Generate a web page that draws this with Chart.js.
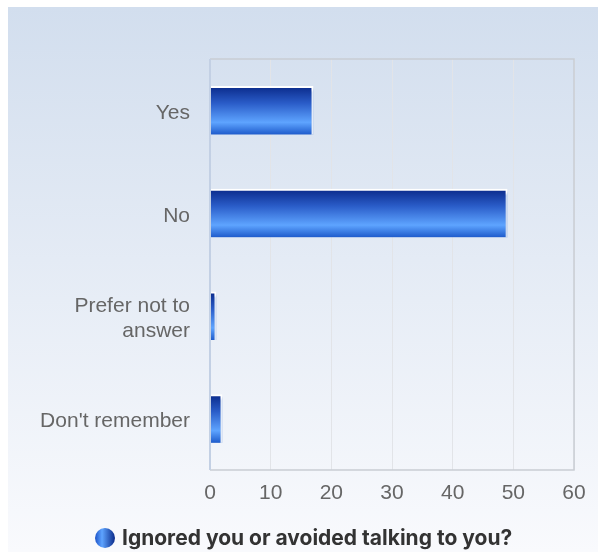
<!DOCTYPE html>
<html>
<head>
<meta charset="utf-8">
<script src="https://cdn.jsdelivr.net/npm/chart.js@4.4.1/dist/chart.umd.min.js"></script>
<style>
  html, body { margin: 0; padding: 0; background: #fff; }
  #wrap { width: 598px; height: 552px; position: relative; }
</style>
</head>
<body>
<div id="wrap"><canvas id="chart" width="598" height="552"></canvas></div>
<script>
const categories = ['Yes', 'No', ['Prefer not to', 'answer'], "Don't remember"];
const responses = [17, 49, 1, 2];
const xTicks = [0, 10, 20, 30, 40, 50, 60];
const seriesName = 'Ignored you or avoided talking to you?';

const BAR_H = 48;

// panel background with a soft blue-to-white fade
const panelBackground = {
    id: 'panelBackground',
    beforeDraw(chart) {
        const { ctx, width, height } = chart;
        const g = ctx.createLinearGradient(0, 7, 0, height);
        g.addColorStop(0, '#d2deee');
        g.addColorStop(1, '#f9fafd');
        ctx.save();
        ctx.fillStyle = g;
        ctx.fillRect(8, 7, width - 8, height - 7);
        ctx.restore();
    }
};

// plot frame + drop shadow under bars
const plotFrame = {
    id: 'plotFrame',
    beforeDatasetsDraw(chart) {
        const ctx = chart.ctx;
        ctx.save();
        ctx.shadowColor = 'rgba(70, 120, 200, 0.45)';
        ctx.shadowOffsetY = 3;
        ctx.shadowOffsetX = 1;
        ctx.shadowBlur = 2;
    },
    afterDatasetsDraw(chart) {
        chart.ctx.restore();
    },
    afterDraw(chart) {
        const { ctx, chartArea: a } = chart;
        ctx.save();
        ctx.strokeStyle = '#c9cdd3';
        ctx.lineWidth = 1.5;
        ctx.beginPath();
        ctx.moveTo(a.left, a.top);
        ctx.lineTo(a.right, a.top);
        ctx.lineTo(a.right, a.bottom);
        ctx.lineTo(a.left, a.bottom);
        ctx.stroke();
        ctx.strokeStyle = '#c3d0e4';
        ctx.lineWidth = 2;
        ctx.beginPath();
        ctx.moveTo(a.left, a.top);
        ctx.lineTo(a.left, a.bottom);
        ctx.stroke();
        ctx.restore();
    }
};

// series key under the axis: gradient dot + bold caption
const seriesKey = {
    id: 'seriesKey',
    afterDraw(chart) {
        const ctx = chart.ctx;
        const cx = 105, cy = 538, r = 10;
        ctx.save();
        const g = ctx.createLinearGradient(cx - r, 0, cx + r, 0);
        g.addColorStop(0, '#1c52c8');
        g.addColorStop(0.35, '#5ea4ff');
        g.addColorStop(1, '#0a2a8a');
        ctx.fillStyle = g;
        ctx.beginPath();
        ctx.arc(cx, cy, r, 0, Math.PI * 2);
        ctx.fill();
        ctx.fillStyle = '#333333';
        ctx.font = 'bold 21px Inter';
        ctx.textBaseline = 'middle';
        ctx.textAlign = 'left';
        ctx.fillText(chart.data.datasets[0].label, 122, cy + 1);
        ctx.restore();
    }
};

function barGradient(context) {
    const chart = context.chart;
    const yScale = chart.scales.y;
    if (!yScale || !chart.chartArea) return '#2a6ad8';
    const yc = yScale.getPixelForValue(context.dataIndex);
    const g = chart.ctx.createLinearGradient(0, yc - BAR_H / 2, 0, yc + BAR_H / 2);
    g.addColorStop(0, '#0a2a8a');
    g.addColorStop(0.35, '#2a5cc8');
    g.addColorStop(0.75, '#5ea4ff');
    g.addColorStop(1, '#1f5ccc');
    return g;
}

new Chart(document.getElementById('chart'), {
    type: 'bar',
    data: {
        labels: categories,
        datasets: [{
            label: seriesName,
            data: responses,
            backgroundColor: barGradient,
            borderColor: '#ffffff',
            borderWidth: { top: 2, right: 2, bottom: 0, left: 0 },
            borderSkipped: false,
            barThickness: BAR_H
        }]
    },
    options: {
        indexAxis: 'y',
        responsive: false,
        animation: false,
        layout: { padding: { top: 59, right: 24, left: 0, bottom: 29 } },
        scales: {
            x: {
                min: 0,
                max: 60,
                afterBuildTicks(scale) {
                    scale.ticks = xTicks.map(v => ({ value: v }));
                },
                afterFit(scale) { scale.height = 53; },
                grid: { color: '#e2e4e8', lineWidth: 1, drawTicks: false },
                border: { display: false },
                ticks: {
                    padding: 11,
                    color: '#666666',
                    font: { family: 'Liberation Sans', size: 21 }
                }
            },
            y: {
                afterFit(scale) { scale.width = 210; },
                grid: { display: false, drawTicks: false },
                border: { display: false },
                ticks: {
                    padding: 20,
                    labelOffset: 3,
                    color: '#666666',
                    font: { family: 'Liberation Sans', size: 21, lineHeight: 1.2 }
                }
            }
        },
        plugins: {
            tooltip: { enabled: false },
            legend: { display: false }
        }
    },
    plugins: [panelBackground, plotFrame, seriesKey]
});
</script>
</body>
</html>
